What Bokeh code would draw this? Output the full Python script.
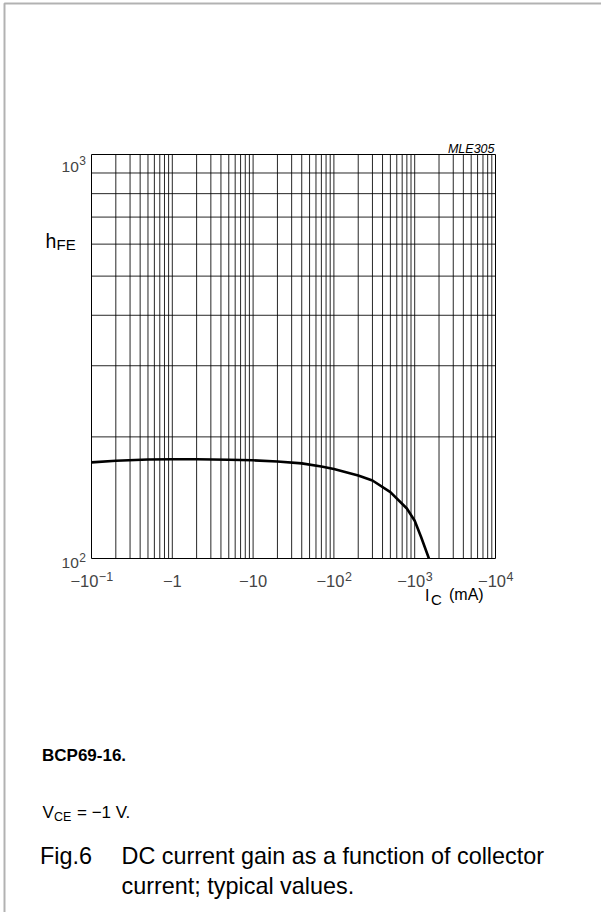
import math
from bokeh.plotting import figure
from bokeh.models import Label, PolyAnnotation
from bokeh.embed import file_html
from bokeh.resources import INLINE

# ---- data ----
ic_ma = [0.1, 0.2, 0.5, 1, 2, 5, 10, 20, 40, 70, 100, 200, 300, 500, 800, 1000, 1200, 1500]
hfe = [173, 174.5, 175.8, 176, 176, 175.6, 175, 173.8, 172, 169, 166.5, 160.5, 156, 146, 133, 124, 113, 100]

x_ticks = [0.1, 1, 10, 100, 1000, 10000]
x_tick_base = ["\u221210", "\u22121", "\u221210", "\u221210", "\u221210", "\u221210"]
x_tick_sup = ["\u22121", "", "", "2", "3", "4"]
y_ticks = [100, 1000]
y_tick_base = ["10", "10"]
y_tick_sup = ["2", "3"]
x_grid = [m * 10.0 ** k for k in range(-1, 4) for m in range(2, 10)] + [1, 10, 100, 1000]
y_grid = [200, 300, 400, 500, 600, 700, 800, 900]
x_lim = (0.1, 10000)
y_lim = (100, 1000)

FONT = "Liberation Sans"
W, H = 601, 912
FL, FR, FT, FB = 91, 495, 154, 558  # wanted plot-box edges in canvas px

ppd_x = (FR - FL) / (math.log10(x_lim[1]) - math.log10(x_lim[0]))
ppd_y = (FB - FT) / (math.log10(y_lim[1]) - math.log10(y_lim[0]))
xr = (10 ** (math.log10(x_lim[0]) - FL / ppd_x), 10 ** (math.log10(x_lim[1]) + (W - FR) / ppd_x))
yr = (10 ** (math.log10(y_lim[0]) - (H - FB) / ppd_y), 10 ** (math.log10(y_lim[1]) + FT / ppd_y))

p = figure(width=W, height=H, x_axis_type="log", y_axis_type="log",
           x_range=xr, y_range=yr, min_border=0,
           output_backend="svg", toolbar_location=None)
p.axis.visible = False
p.grid.visible = False
p.outline_line_color = None
p.background_fill_color = "white"
p.border_fill_color = "white"

p.segment(x0=x_grid, y0=[y_lim[0]] * len(x_grid), x1=x_grid, y1=[y_lim[1]] * len(x_grid),
          line_color="black", line_alpha=0.85, line_width=1)
p.segment(x0=[x_lim[0]] * len(y_grid), y0=y_grid, x1=[x_lim[1]] * len(y_grid), y1=y_grid,
          line_color="black", line_alpha=0.85, line_width=1)
p.quad(left=[x_lim[0]], right=[x_lim[1]], bottom=[y_lim[0]], top=[y_lim[1]],
       fill_alpha=0, line_color="black", line_width=1)

p.line(ic_ma, hfe, line_width=2.6, color="black")


def sx(cx):
    return cx


def sy(cy):
    return H - cy


def lab(text, cx, cy, size, align="left", style="normal"):
    p.add_layout(Label(x=sx(cx), y=sy(cy), x_units="screen", y_units="screen",
                       text=text, text_font=FONT, text_font_size=f"{size}px",
                       text_align=align, text_baseline="alphabetic",
                       text_font_style=style, text_color="black"))


BASE, SUP = 16.5, 12.5
em = {"\u2212": 0.584, "1": 0.556, "0": 0.556, "2": 0.556, "3": 0.556, "4": 0.556}

# x tick labels: data x, screen y
for t, b, s in zip(x_ticks, x_tick_base, x_tick_sup):
    bw = sum(em[c] for c in b) * BASE
    sw = sum(em[c] for c in s) * SUP
    shift = (bw - sw) / 2
    p.add_layout(Label(x=t, y=sy(580.5), x_units="data", y_units="screen", x_offset=shift,
                       text=b, text_font=FONT, text_font_size=f"{BASE}px",
                       text_align="right", text_baseline="alphabetic"))
    if s:
        p.add_layout(Label(x=t, y=sy(575.5), x_units="data", y_units="screen", x_offset=shift + 0.5,
                           text=s, text_font=FONT, text_font_size=f"{SUP}px",
                           text_align="left", text_baseline="alphabetic"))

# y tick labels: screen x, data y
YB, YS = 15.5, 12
for t, b, s, dy, rise in zip(y_ticks, y_tick_base, y_tick_sup, [4, 12], [5, 6]):
    sw = sum(em[c] for c in s) * YS
    p.add_layout(Label(x=sx(85) - sw, y=t, x_units="screen", y_units="data", y_offset=-dy,
                       text=b, text_font=FONT, text_font_size=f"{YB}px",
                       text_align="right", text_baseline="alphabetic"))
    p.add_layout(Label(x=sx(85) - sw + 0.5, y=t, x_units="screen", y_units="data", y_offset=-dy + rise,
                       text=s, text_font=FONT, text_font_size=f"{YS}px",
                       text_align="left", text_baseline="alphabetic"))

# axis titles
lab("h", 45, 240, 19.5)
lab("FE", 56, 243.5, 15)
lab("I", 424.5, 595, 16)
lab("C", 430.5, 599, 15)
lab("(mA)", 448.5, 594, 16)
lab("MLE305", 494, 148.5, 12.5, align="right", style="italic")

# captions
lab("BCP69-16.", 41.5, 755, 17, style="bold")
lab("V", 42, 812, 17)
lab("CE", 53.5, 816, 12.5)
lab("= \u22121 V.", 76.5, 812, 17)
lab("Fig.6", 39.5, 855, 23.4)
lab("DC current gain as a function of collector", 121, 855, 23.4)
lab("current; typical values.", 121, 885, 23.4)

# page border (top and left edges)
p.add_layout(PolyAnnotation(xs=[sx(4), sx(700), sx(700), sx(4)],
                            ys=[sy(3), sy(3), sy(1000), sy(1000)],
                            xs_units="screen", ys_units="screen",
                            fill_alpha=0, line_color="black", line_width=2))

open("out.html", "w").write(file_html(p, INLINE))
